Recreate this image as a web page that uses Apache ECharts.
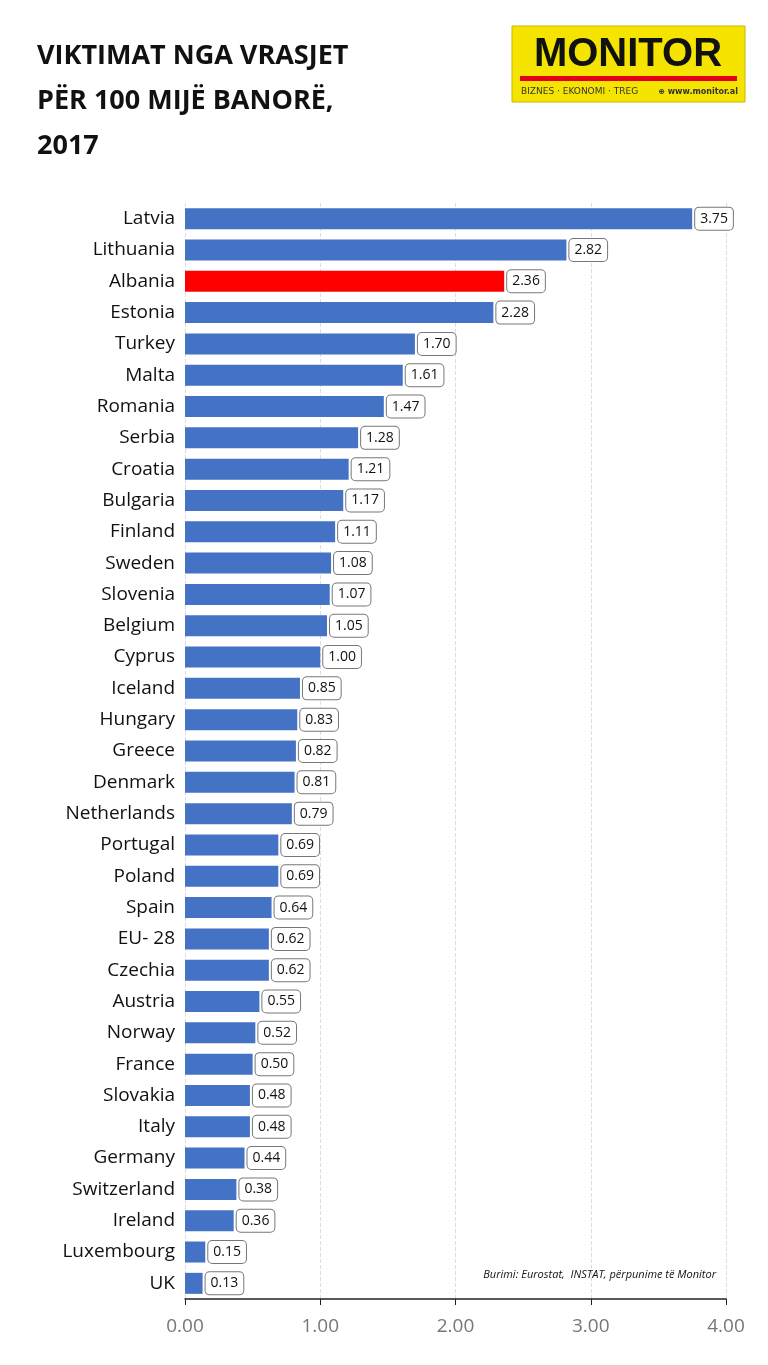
<!DOCTYPE html>
<html>
<head>
<meta charset="utf-8">
<title>Viktimat nga vrasjet</title>
<script src="https://cdn.jsdelivr.net/npm/echarts@6.0.0/dist/echarts.min.js"></script>
<style>
  html, body { margin: 0; padding: 0; background: #fff; }
  #chart { width: 768px; height: 1365px; }
</style>
</head>
<body>
<div id="chart"></div>
<script>
const countries = ['Latvia','Lithuania','Albania','Estonia','Turkey','Malta','Romania','Serbia','Croatia','Bulgaria','Finland','Sweden','Slovenia','Belgium','Cyprus','Iceland','Hungary','Greece','Denmark','Netherlands','Portugal','Poland','Spain','EU- 28','Czechia','Austria','Norway','France','Slovakia','Italy','Germany','Switzerland','Ireland','Luxembourg','UK'];
const values = [3.75,2.82,2.36,2.28,1.70,1.61,1.47,1.28,1.21,1.17,1.11,1.08,1.07,1.05,1.00,0.85,0.83,0.82,0.81,0.79,0.69,0.69,0.64,0.62,0.62,0.55,0.52,0.50,0.48,0.48,0.44,0.38,0.36,0.15,0.13];
const highlight = 'Albania';

const chart = echarts.init(document.getElementById('chart'));
chart.setOption({
  animation: false,
  grid: { left: 185, right: 42, top: 203, bottom: 66 },
  title: {
    text: 'VIKTIMAT NGA VRASJET\nPËR 100 MIJË BANORË,\n2017',
    left: 32, top: 29,
    textStyle: { fontFamily: 'Open Sans', fontWeight: 'bold', fontSize: 27, lineHeight: 45, color: '#111' }
  },
  graphic: [
    { type: 'rect', shape: { x: 512, y: 26, width: 233, height: 76 }, style: { fill: '#f5e400', stroke: '#c8b800', lineWidth: 1 } },
    { type: 'text', style: { x: 628, y: 55, text: 'MONITOR', fill: '#111', font: 'bold 40px "Liberation Sans"', align: 'center', verticalAlign: 'middle' } },
    { type: 'rect', shape: { x: 520, y: 76, width: 217, height: 5 }, style: { fill: '#e3001b' } },
    { type: 'text', style: { x: 521, y: 92, text: 'BIZNES · EKONOMI · TREG', fill: '#333', font: '9px "DejaVu Sans"', verticalAlign: 'middle' } },
    { type: 'text', style: { x: 738, y: 92, text: '⊕ www.monitor.al', fill: '#333', font: 'bold 8px "DejaVu Sans"', align: 'right', verticalAlign: 'middle' } },
    { type: 'text', style: { x: 716, y: 1269, text: 'Burimi: Eurostat,  INSTAT, përpunime të Monitor', fill: '#111', font: 'italic 11px "Open Sans"', align: 'right' } }
  ],
  xAxis: {
    type: 'value', min: 0, max: 4, interval: 1,
    axisLine: { show: true, lineStyle: { color: '#222', width: 1.5 } },
    axisTick: { show: true, length: 6, lineStyle: { color: '#222' } },
    splitLine: { lineStyle: { color: '#ddd', type: 'dashed' } },
    axisLabel: { formatter: v => v.toFixed(2), color: '#777', fontSize: 19, fontFamily: 'Open Sans', margin: 18 }
  },
  yAxis: {
    type: 'category', data: countries, inverse: true,
    axisLine: { show: false }, axisTick: { show: false },
    axisLabel: { color: '#111', fontSize: 19, fontFamily: 'Open Sans', margin: 10 }
  },
  series: [{
    type: 'bar', barWidth: 21,
    data: values.map((v, i) => ({ value: v, itemStyle: { color: countries[i] === highlight ? '#ff0000' : '#4472c4' } })),
    label: {
      show: true, position: 'right', distance: 3,
      formatter: p => p.value.toFixed(2),
      color: '#111', fontSize: 14, fontFamily: 'Open Sans',
      backgroundColor: '#fff', borderColor: '#777', borderWidth: 1, borderRadius: 4,
      padding: [4, 5]
    }
  }]
});
</script>
</body>
</html>
